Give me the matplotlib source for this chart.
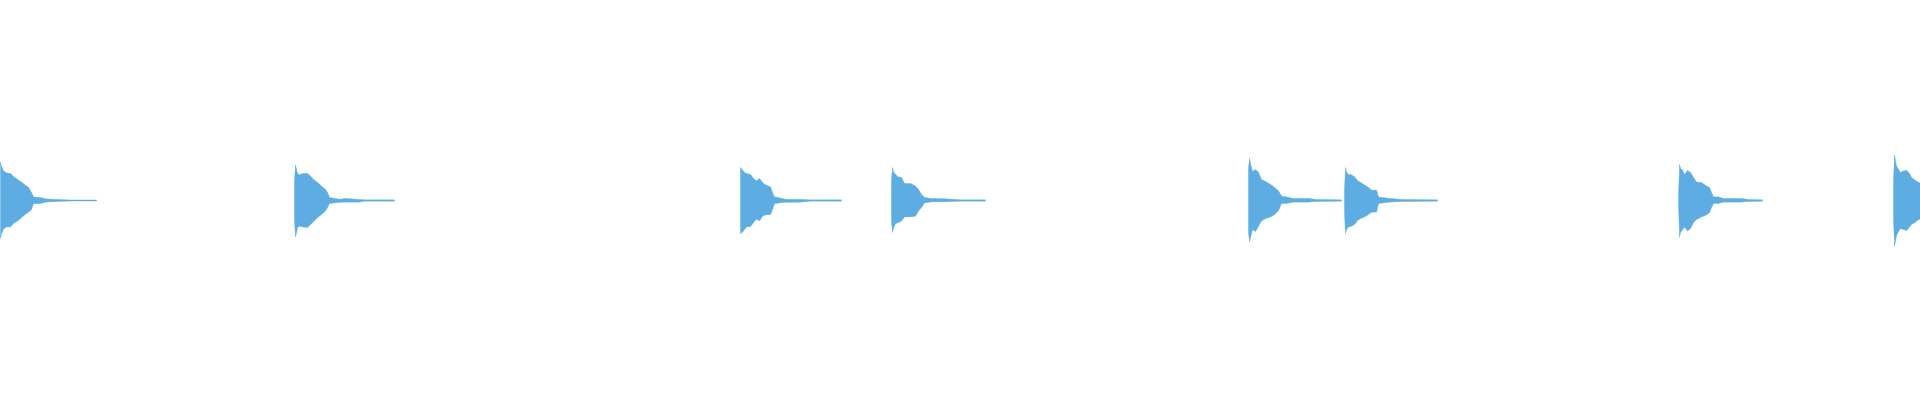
import numpy as np
import matplotlib
matplotlib.use("Agg")
import matplotlib.pyplot as plt

# Waveform envelopes.
# onset in seconds, offsets in ms after onset,
# amplitudes in percent of full scale (upper / lower half)
DURATION = 19.2
WAVE_COLOR = "#5DADE2"

onsets = [0.00, 2.94, 7.40, 8.91, 12.48, 13.44, 16.78, 18.93]

offsets_ms = [
    [0, 10, 30, 60, 100, 130, 170, 200, 240, 280, 310, 330, 400, 450, 600, 700, 960],
    [0, 10, 20, 30, 50, 80, 130, 160, 190, 230, 270, 310, 330, 350, 450, 510, 650, 700, 1000],
    [0, 20, 40, 60, 100, 130, 160, 190, 220, 250, 300, 320, 340, 400, 450, 600, 700, 1010],
    [0, 10, 20, 40, 70, 100, 130, 190, 240, 270, 300, 330, 400, 550, 700, 940],
    [0, 10, 20, 40, 70, 100, 130, 170, 220, 260, 300, 330, 380, 450, 600, 680, 930],
    [0, 10, 20, 40, 70, 100, 130, 160, 200, 240, 270, 320, 340, 450, 580, 930],
    [0, 10, 20, 40, 60, 90, 120, 150, 180, 230, 280, 310, 330, 350, 400, 450, 630, 700, 840],
    [0, 10, 20, 30, 50, 70, 100, 130, 160, 180, 220, 250, 280],
]

upper_pct = [
    [19.2, 17.2, 14.8, 13.8, 13.5, 12.0, 10.5, 9.5, 8.0, 6.5, 4.0, 1.8, 1.5, 0.8, 0.4, 0.25, 0.25],
    [9.8, 17.8, 15.5, 13.5, 12.8, 13.5, 13.5, 12.2, 10.5, 9.0, 7.2, 5.5, 4.0, 1.5, 0.6, 1.0, 0.5, 0.3, 0.3],
    [16.5, 15.2, 14.0, 13.5, 13.0, 11.0, 9.8, 11.0, 9.0, 7.8, 6.8, 4.0, 1.8, 1.2, 0.6, 0.5, 0.3, 0.3],
    [10.0, 16.5, 14.2, 13.0, 11.8, 11.5, 8.5, 8.5, 7.2, 5.5, 3.0, 1.5, 1.0, 0.8, 0.3, 0.3],
    [16.0, 21.0, 18.5, 14.5, 15.5, 14.0, 10.5, 9.5, 8.0, 6.5, 4.8, 2.2, 1.8, 1.0, 1.0, 0.5, 0.3],
    [5.2, 16.5, 14.2, 13.0, 12.8, 11.8, 10.0, 9.0, 7.8, 6.5, 5.2, 5.2, 1.8, 1.0, 0.5, 0.3],
    [0.3, 18.0, 16.0, 15.2, 13.0, 15.0, 14.0, 11.5, 9.2, 9.0, 7.2, 6.5, 4.0, 1.8, 1.8, 1.0, 1.0, 0.5, 0.3],
    [9.0, 22.8, 19.8, 17.2, 15.5, 14.0, 14.8, 15.0, 13.5, 11.5, 10.0, 9.0, 8.5],
]

lower_pct = [
    [19.1, 16.8, 14.2, 13.2, 13.2, 11.5, 10.2, 9.0, 7.2, 5.8, 4.5, 1.6, 1.5, 0.8, 0.4, 0.25, 0.25],
    [9.8, 18.2, 16.0, 13.5, 12.8, 13.2, 13.5, 12.0, 10.5, 8.5, 7.0, 5.2, 3.5, 1.5, 0.9, 0.8, 0.8, 0.3, 0.3],
    [16.5, 15.8, 14.5, 13.2, 13.0, 11.0, 9.2, 10.2, 7.8, 7.2, 7.0, 4.5, 1.6, 1.1, 0.9, 0.8, 0.3, 0.3],
    [10.2, 16.0, 14.0, 11.5, 11.0, 10.2, 8.2, 8.2, 7.8, 5.2, 3.5, 1.2, 0.7, 0.6, 0.3, 0.3],
    [16.0, 20.5, 18.5, 14.5, 15.5, 12.8, 10.2, 9.0, 8.2, 7.0, 5.0, 1.5, 1.5, 0.8, 0.8, 0.5, 0.3],
    [5.8, 16.5, 14.5, 13.2, 12.8, 12.0, 10.0, 9.0, 8.2, 7.0, 5.8, 5.8, 1.5, 0.8, 0.5, 0.3],
    [0.3, 18.5, 16.0, 14.5, 13.2, 15.2, 14.0, 11.0, 9.5, 8.2, 7.2, 6.0, 3.5, 1.5, 1.5, 0.8, 0.8, 0.5, 0.3],
    [8.5, 22.8, 20.2, 17.5, 15.5, 14.0, 14.5, 15.0, 13.2, 12.0, 10.8, 9.5, 9.0],
]

fig = plt.figure(figsize=(19.2, 4), dpi=100)
ax = fig.add_axes([0, 0, 1, 1])

for onset, offs, up, low in zip(onsets, offsets_ms, upper_pct, lower_pct):
    t = onset + np.array(offs) / 1000.0
    ax.fill_between(t, -np.array(low) / 100.0, np.array(up) / 100.0,
                    color=WAVE_COLOR, linewidth=0.3, edgecolor=WAVE_COLOR)

ax.set_xlim(0, DURATION)
ax.set_ylim(-1, 1)
ax.axis("off")

fig.savefig("out.png", dpi=100, facecolor="white")
